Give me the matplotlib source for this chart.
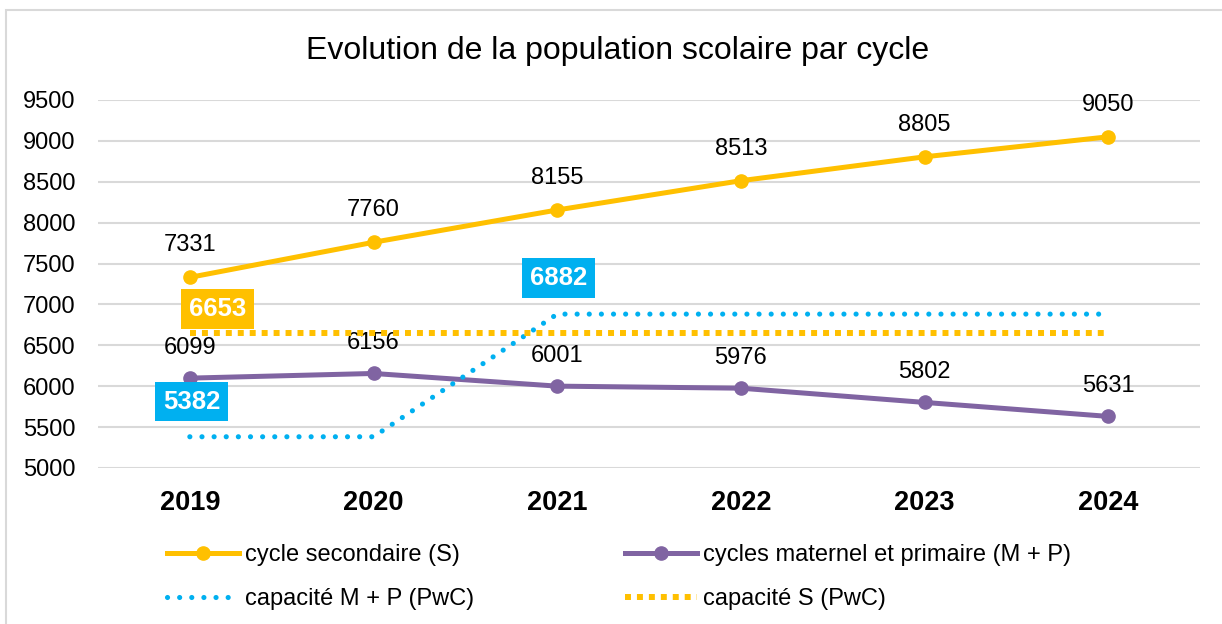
import matplotlib
matplotlib.use('Agg')
import matplotlib.pyplot as plt
from matplotlib.patches import Rectangle

plt.rcParams['font.family'] = ['Liberation Sans', 'DejaVu Sans']

# données
years = ['2019', '2020', '2021', '2022', '2023', '2024']
secondaire = [7331, 7760, 8155, 8513, 8805, 9050]
mat_prim = [6099, 6156, 6001, 5976, 5802, 5631]
cap_mp = [5382, 5382, 6882, 6882, 6882, 6882]
cap_s = [6653, 6653, 6653, 6653, 6653, 6653]

JAUNE = '#FFC000'
VIOLET = '#8064A2'
BLEU = '#00B0F0'
GRIS = '#D9D9D9'

fig = plt.figure(figsize=(12.22, 6.24), dpi=100)
ax = fig.add_axes([98/1222, 1 - 468/624, (1200-98)/1222, (468-100)/624])

x = list(range(len(years)))

l_s, = ax.plot(x, secondaire, color=JAUNE, lw=3.6, marker='o', ms=9.5,
               label='cycle secondaire (S)', zorder=3)
l_mp, = ax.plot(x, mat_prim, color=VIOLET, lw=3.6, marker='o', ms=9.5,
                label='cycles maternel et primaire (M + P)', zorder=3)
l_cmp, = ax.plot(x, cap_mp, color=BLEU, lw=3.7, linestyle=(0, (0.01, 2.35)),
                 dash_capstyle='round', label='capacité M + P (PwC)', zorder=4)
l_cs, = ax.plot(x, cap_s, color=JAUNE, lw=4.3, linestyle=(0, (1, 1)),
                dash_capstyle='butt', label='capacité S (PwC)', zorder=4)

# étiquettes de données
for i in x:
    ax.annotate(str(secondaire[i]), (i, secondaire[i]), xytext=(0, 32),
                textcoords='offset pixels', ha='center', va='center', fontsize=17)
    ax.annotate(str(mat_prim[i]), (i, mat_prim[i]), xytext=(0, 30),
                textcoords='offset pixels', ha='center', va='center', fontsize=17)

# étiquettes encadrées
boites = [(0, cap_s[0], 28, 24, JAUNE), (0, cap_mp[0], 2, 35, BLEU), (2, cap_mp[2], 1, 36, BLEU)]
for xi, val, dx, dy, col in boites:
    ax.annotate(str(val), (xi, val), xytext=(dx, dy), textcoords='offset pixels',
                ha='center', va='center', fontsize=18.5, fontweight='bold', color='white',
                bbox=dict(boxstyle='square,pad=0.3', fc=col, ec='none'), zorder=6)

ax.set_xlim(-0.5, 5.5)
ax.set_ylim(5000, 9500)
ax.set_yticks(range(5000, 9501, 500))
ax.set_xticks(x)
ax.set_xticklabels(years, fontsize=19.5, fontweight='bold')
ax.tick_params(axis='y', labelsize=17, length=0, pad=16)
ax.tick_params(axis='x', length=0, pad=16)
ax.grid(axis='y', color=GRIS, lw=1.5)
ax.set_axisbelow(True)
for s in ax.spines.values():
    s.set_visible(False)

fig.text(618/1222, 1 - 51/624, 'Evolution de la population scolaire par cycle',
         ha='center', va='center', fontsize=23)

fig.legend([l_s, l_cmp, l_mp, l_cs],
           [l_s.get_label(), l_cmp.get_label(), l_mp.get_label(), l_cs.get_label()],
           loc='upper left', bbox_to_anchor=(167/1222, 1 - 544/624), ncol=2,
           frameon=False, fontsize=17, handlelength=3.05, handletextpad=0.25,
           columnspacing=6.4, labelspacing=0.95, borderaxespad=0, borderpad=0)

fig.patches.append(Rectangle((6/1222, -0.05), 1.1, 1.05 - 10/624, transform=fig.transFigure,
                             fill=False, ec=GRIS, lw=1.5))

fig.savefig('out.png', dpi=100)
